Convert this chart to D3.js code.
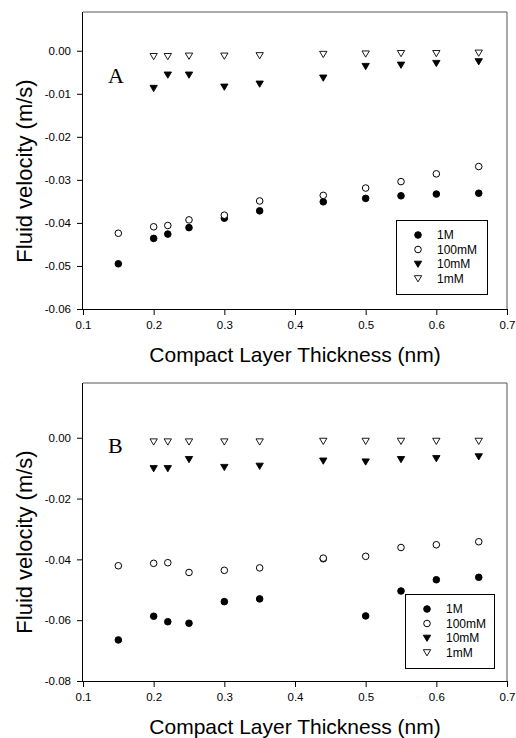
<!DOCTYPE html>
<html>
<head>
<meta charset="utf-8">
<script src="https://cdn.jsdelivr.net/npm/d3@7"></script>
<style>
  body { margin: 0; background: #fff; }
  svg { display: block; font-family: Arial, "Liberation Sans", sans-serif; }
  .tick text { font-size: 11.5px; fill: #000; }
  .tick line, .domain { stroke: #000; }
</style>
</head>
<body>
<svg width="516" height="738"></svg>
<script>
// thickness values (nm), shared by both panels
var thickness = [0.15, 0.2, 0.22, 0.25, 0.3, 0.35, 0.44, 0.5, 0.55, 0.6, 0.66];

// panel A
var a1M    = [-0.0495, -0.0436, -0.0426, -0.0411, -0.0389, -0.0372, -0.0351, -0.0343, -0.0337, -0.0333, -0.0331];
var a100mM = [-0.0424, -0.0409, -0.0406, -0.0393, -0.0382, -0.0349, -0.0336, -0.0319, -0.0304, -0.0286, -0.0269];
var a10mM  = [null, -0.0087, -0.0056, -0.0056, -0.0084, -0.0077, -0.0063, -0.0036, -0.0033, -0.0029, -0.0025];
var a1mM   = [null, -0.0013, -0.0013, -0.0012, -0.0012, -0.0011, -0.0008, -0.0007, -0.0006, -0.0006, -0.0005];

// panel B
var b1M    = [-0.0665, -0.0587, -0.0605, -0.0610, -0.0539, -0.0530, -0.0398, -0.0586, -0.0504, -0.0467, -0.0459];
var b100mM = [-0.0421, -0.0413, -0.0411, -0.0443, -0.0436, -0.0428, -0.0396, -0.0390, -0.0361, -0.0352, -0.0342];
var b10mM  = [null, -0.0101, -0.0101, -0.0071, -0.0097, -0.0093, -0.0076, -0.0079, -0.0071, -0.0068, -0.0062];
var b1mM   = [null, -0.0013, -0.0013, -0.0013, -0.0013, -0.0013, -0.0011, -0.0011, -0.0011, -0.0011, -0.0011];

var seriesNames = ["1M", "100mM", "10mM", "1mM"];
var xTicks = [0.1, 0.2, 0.3, 0.4, 0.5, 0.6, 0.7];
var yTicksA = [0, -0.01, -0.02, -0.03, -0.04, -0.05, -0.06];
var yTicksB = [0, -0.02, -0.04, -0.06, -0.08];

var svg = d3.select("svg");

var triDown = d3.symbol().type({
  draw: function(ctx, size) {
    var s = Math.sqrt(size);
    ctx.moveTo(-s * 0.52, -s * 0.4);
    ctx.lineTo(s * 0.52, -s * 0.4);
    ctx.lineTo(0, s * 0.48);
    ctx.closePath();
  }
}).size(50)();

function marker(sel, i) {
  // 0: filled circle, 1: open circle, 2: filled triangle, 3: open triangle
  if (i < 2) {
    sel.append("circle").attr("r", 3.3)
      .attr("fill", i == 0 ? "#000" : "#fff")
      .attr("stroke", "#000").attr("stroke-width", 1);
  } else {
    sel.append("path").attr("d", triDown)
      .attr("fill", i == 2 ? "#000" : "#fff")
      .attr("stroke", "#000").attr("stroke-width", 0.9);
  }
}

function panel(opt) {
  var x = d3.scaleLinear().domain([0.1, 0.7]).range([83, 507]);
  var y = d3.scaleLinear().domain(opt.yDomain).range([opt.bottom, opt.top]);

  var g = svg.append("g");

  // frame top & right
  g.append("line").attr("x1", 83).attr("x2", 507).attr("y1", opt.top).attr("y2", opt.top)
    .attr("stroke", "#555").attr("stroke-width", 1);
  g.append("line").attr("x1", 507).attr("x2", 507).attr("y1", opt.top).attr("y2", opt.bottom)
    .attr("stroke", "#555").attr("stroke-width", 1);

  g.append("g")
    .attr("transform", "translate(0," + opt.bottom + ")")
    .call(d3.axisBottom(x).tickValues(xTicks).tickSize(6).tickPadding(6)
      .tickFormat(function(d) { return d.toFixed(1); }))
    .call(function(a) { a.select(".domain").attr("d", "M83,0.5H507"); });

  g.append("g")
    .attr("transform", "translate(83,0)")
    .call(d3.axisLeft(y).tickValues(opt.yTicks).tickSize(6).tickPadding(6)
      .tickFormat(function(d) { return d.toFixed(2); }))
    .call(function(a) { a.select(".domain").attr("d", "M-0.5," + opt.top + "V" + opt.bottom); });

  g.append("text")
    .attr("x", 295).attr("y", opt.bottom + 53)
    .attr("text-anchor", "middle")
    .attr("font-size", 21)
    .text("Compact Layer Thickness (nm)");

  g.append("text")
    .attr("transform", "translate(32," + (opt.top + 159) + ") rotate(-90)")
    .attr("text-anchor", "middle")
    .attr("font-size", 22)
    .text("Fluid velocity (m/s)");

  g.append("text")
    .attr("x", 108).attr("y", opt.labelY)
    .attr("font-family", "'Liberation Serif', 'Times New Roman', serif")
    .attr("font-size", 22)
    .text(opt.label);

  opt.series.forEach(function(vals, i) {
    var pts = thickness.map(function(t, j) { return {x: t, y: vals[j]}; })
      .filter(function(d) { return d.y != null; });
    g.selectAll(".s" + i)
      .data(pts)
      .enter().append("g")
      .attr("class", "s" + i)
      .attr("transform", function(d) { return "translate(" + x(d.x) + "," + y(d.y) + ")"; })
      .each(function() { marker(d3.select(this), i); });
  });

  // legend
  var lg = opt.legend;
  g.append("rect")
    .attr("x", lg.x + 0.5).attr("y", lg.y + 0.5)
    .attr("width", lg.w).attr("height", 74)
    .attr("fill", "#fff").attr("stroke", "#000").attr("stroke-width", 1);
  seriesNames.forEach(function(name, i) {
    var row = g.append("g").attr("transform", "translate(" + (lg.x + 22) + "," + (lg.y + 15 + i * 14.5) + ")");
    marker(row, i);
    row.append("text").attr("x", 19).attr("dy", "0.36em")
      .attr("font-size", 12).text(name);
  });
}

panel({
  top: 12, bottom: 309, yDomain: [-0.06, 0.009], yTicks: yTicksA,
  label: "A", labelY: 83,
  series: [a1M, a100mM, a10mM, a1mM],
  legend: {x: 396, y: 220, w: 91}
});

panel({
  top: 383, bottom: 681, yDomain: [-0.08, 0.018], yTicks: yTicksB,
  label: "B", labelY: 453,
  series: [b1M, b100mM, b10mM, b1mM],
  legend: {x: 405, y: 594, w: 89}
});
</script>
</body>
</html>
